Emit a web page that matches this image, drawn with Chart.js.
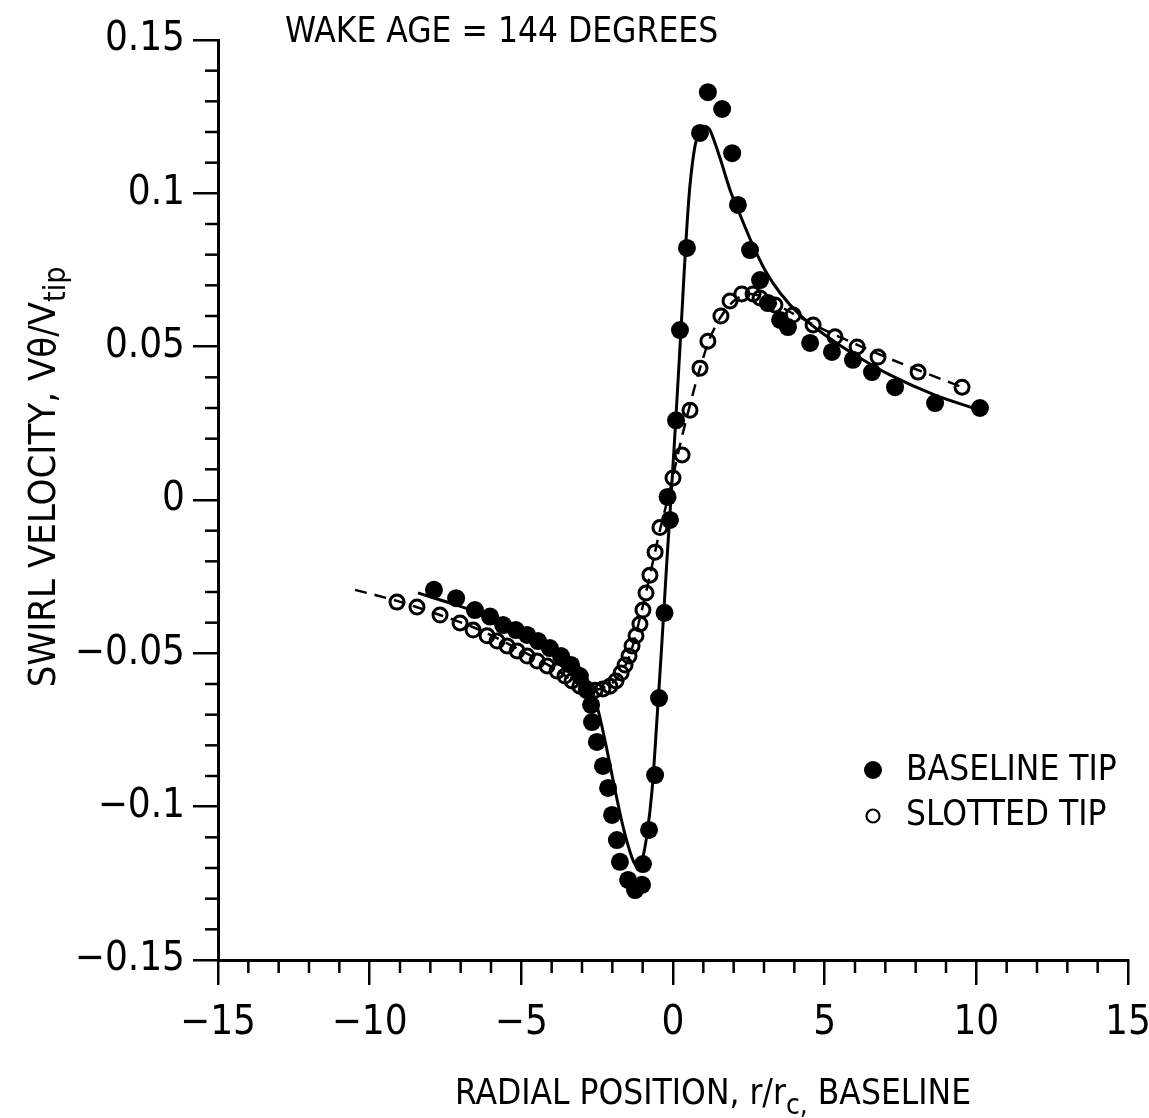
<!DOCTYPE html>
<html><head><meta charset="utf-8">
<script src="https://cdn.jsdelivr.net/npm/chart.js@4/dist/chart.umd.min.js"></script>
<style>html,body{margin:0;padding:0;background:#fff}</style>
</head><body>
<canvas id="c" width="1149" height="1118"></canvas>
<script>
// ---- data ----
const chartTitle = 'WAKE AGE = 144 DEGREES';
const seriesNames = ['BASELINE TIP', 'SLOTTED TIP'];
const xTickValues = [-15, -10, -5, 0, 5, 10, 15];
const xTickLabels = ['\u221215', '\u221210', '\u22125', '0', '5', '10', '15'];
const yTickValues = [-0.15, -0.1, -0.05, 0, 0.05, 0.1, 0.15];
const yTickLabels = ['\u22120.15', '\u22120.1', '\u22120.05', '0', '0.05', '0.1', '0.15'];

// baseline tip measured points (filled circles)
const baselineX = [-7.88,-7.15,-6.53,-6.03,-5.60,-5.18,-4.81,-4.45,-4.06,-3.69,-3.36,-3.07,-2.84,-2.70,-2.67,-2.51,-2.31,-2.14,-2.01,-1.85,-1.75,-1.48,-1.25,-1.02,-0.99,-0.79,-0.59,-0.46,-0.28,-0.10,-0.18,0.10,0.23,0.46,0.89,1.15,1.62,1.95,2.14,2.54,2.87,3.13,3.53,3.79,4.52,5.24,5.93,6.56,7.32,8.64,10.12];
const baselineY = [-0.0293,-0.0320,-0.0359,-0.0380,-0.0408,-0.0424,-0.0440,-0.0460,-0.0483,-0.0509,-0.0538,-0.0574,-0.0620,-0.0668,-0.0724,-0.0789,-0.0867,-0.0939,-0.1027,-0.1109,-0.1180,-0.1239,-0.1272,-0.1255,-0.1187,-0.1076,-0.0897,-0.0646,-0.0368,-0.0065,0.0010,0.0260,0.0554,0.0822,0.1197,0.1330,0.1275,0.1131,0.0962,0.0815,0.0717,0.0642,0.0587,0.0564,0.0512,0.0483,0.0457,0.0417,0.0368,0.0316,0.0300];

// baseline tip fitted curve (solid line)
const baselineFitX = [-8.41,-7.35,-6.36,-5.37,-4.39,-3.56,-3.07,-2.74,-2.47,-2.21,-1.91,-1.62,-1.35,-1.19,-1.02,-0.86,-0.69,-0.53,-0.36,-0.20,-0.03,0.13,0.30,0.43,0.56,0.73,0.89,1.06,1.22,1.55,1.88,2.21,2.60,3.03,3.53,4.19,5.01,6.00,7.15,8.64,10.12];
const baselineFitY = [-0.0303,-0.0336,-0.0369,-0.0408,-0.0457,-0.0505,-0.0548,-0.0603,-0.0685,-0.0799,-0.0946,-0.1076,-0.1167,-0.1193,-0.1174,-0.1092,-0.0946,-0.0717,-0.0456,-0.0196,0.0065,0.0326,0.0620,0.0848,0.1027,0.1157,0.1206,0.1219,0.1206,0.1115,0.1011,0.0930,0.0838,0.0750,0.0675,0.0603,0.0538,0.0473,0.0408,0.0342,0.0293];

// slotted tip measured points (open circles)
const slottedX = [-9.10,-8.44,-7.68,-7.02,-6.59,-6.13,-5.80,-5.47,-5.14,-4.81,-4.48,-4.15,-3.82,-3.56,-3.33,-3.07,-2.84,-2.57,-2.31,-2.08,-1.88,-1.71,-1.58,-1.45,-1.35,-1.22,-1.09,-0.99,-0.89,-0.76,-0.59,-0.43,0.00,0.30,0.56,0.89,1.15,1.58,1.88,2.27,2.64,2.87,3.36,3.96,4.62,5.34,6.07,6.76,8.08,9.53];
const slottedY = [-0.0333,-0.0349,-0.0375,-0.0401,-0.0424,-0.0443,-0.0460,-0.0476,-0.0492,-0.0509,-0.0525,-0.0541,-0.0558,-0.0574,-0.0590,-0.0607,-0.0616,-0.0620,-0.0616,-0.0607,-0.0590,-0.0564,-0.0538,-0.0509,-0.0476,-0.0443,-0.0404,-0.0359,-0.0303,-0.0245,-0.0170,-0.0090,0.0072,0.0147,0.0293,0.0430,0.0518,0.0600,0.0649,0.0672,0.0672,0.0659,0.0636,0.0603,0.0571,0.0532,0.0499,0.0466,0.0417,0.0368];

// slotted tip fitted curve (dashed line)
const slottedFitX = [-10.48,-9.10,-7.68,-6.36,-5.04,-4.06,-3.23,-2.74,-2.41,-2.08,-1.75,-1.42,-1.09,-0.76,-0.43,-0.10,0.23,0.56,0.89,1.22,1.55,2.04,2.54,3.03,3.86,4.85,6.17,7.48,9.53];
const slottedFitY = [-0.0293,-0.0329,-0.0375,-0.0424,-0.0489,-0.0541,-0.0593,-0.0616,-0.0616,-0.0603,-0.0571,-0.0505,-0.0385,-0.0245,-0.0098,0.0033,0.0179,0.0310,0.0430,0.0528,0.0593,0.0652,0.0672,0.0659,0.0613,0.0561,0.0502,0.0447,0.0368];

// ---- build chart ----
const FONT = "'DejaVu Sans Condensed', 'Liberation Sans Narrow', 'DejaVu Sans', sans-serif";
const pts = (xs, ys) => xs.map((x, i) => ({x: x, y: ys[i]}));

const decorPlugin = {
  id: 'decor',
  afterDraw(chart) {
    const ctx = chart.ctx;
    const xs = chart.scales.x, ys = chart.scales.y;
    ctx.save();
    ctx.strokeStyle = '#000';
    ctx.fillStyle = '#000';
    // minor ticks
    ctx.lineWidth = 2.5;
    for (let v = -15; v <= 15; v++) {
      if (v % 5 === 0) continue;
      const px = xs.getPixelForValue(v);
      ctx.beginPath(); ctx.moveTo(px, xs.top); ctx.lineTo(px, xs.top + 13); ctx.stroke();
    }
    for (let k = -15; k <= 15; k++) {
      if (k % 5 === 0) continue;
      const py = ys.getPixelForValue(k / 100);
      ctx.beginPath(); ctx.moveTo(ys.right, py); ctx.lineTo(ys.right - 13, py); ctx.stroke();
    }
    // chart title
    ctx.font = '35px ' + FONT;
    ctx.textBaseline = 'alphabetic';
    ctx.textAlign = 'left';
    ctx.fillText(chartTitle, 285, 42);

    // x axis title with subscript
    const big = '35px ' + FONT, small = '28px ' + FONT;
    const parts = [['RADIAL POSITION, r/r', big, 0], ['c,', small, 10], [' BASELINE', big, 0]];
    let total = 0;
    parts.forEach(p => { ctx.font = p[1]; total += ctx.measureText(p[0]).width; });
    let x0 = 713 - total / 2;
    parts.forEach(p => { ctx.font = p[1]; ctx.fillText(p[0], x0, 1104 + p[2]); x0 += ctx.measureText(p[0]).width; });

    // y axis title (rotated) with subscript
    ctx.save();
    ctx.translate(55, 477);
    ctx.rotate(-Math.PI / 2);
    const ybig = '38px ' + FONT, ysmall = '30px ' + FONT;
    const yparts = [['SWIRL VELOCITY, V\u03B8/V', ybig, 0], ['tip', ysmall, 10]];
    total = 0;
    yparts.forEach(p => { ctx.font = p[1]; total += ctx.measureText(p[0]).width; });
    x0 = -total / 2;
    yparts.forEach(p => { ctx.font = p[1]; ctx.fillText(p[0], x0, p[2]); x0 += ctx.measureText(p[0]).width; });
    ctx.restore();

    // legend
    ctx.beginPath(); ctx.arc(873, 770, 9, 0, Math.PI * 2); ctx.fill();
    ctx.beginPath(); ctx.lineWidth = 2.2; ctx.arc(873, 816, 6.5, 0, Math.PI * 2); ctx.stroke();
    ctx.font = '35px ' + FONT;
    ctx.textBaseline = 'middle';
    ctx.fillText(seriesNames[0], 906, 771);
    ctx.fillText(seriesNames[1], 906, 816);
    ctx.restore();
  }
};

new Chart(document.getElementById('c'), {
  type: 'scatter',
  data: {
    datasets: [
      {label: seriesNames[0] + ' fit', data: pts(baselineFitX, baselineFitY), showLine: true, borderColor: '#000', borderWidth: 3, pointRadius: 0, tension: 0.3, fill: false},
      {label: seriesNames[1] + ' fit', data: pts(slottedFitX, slottedFitY), showLine: true, borderColor: '#000', borderWidth: 2.5, borderDash: [12, 8], pointRadius: 0, tension: 0.3, fill: false},
      {label: seriesNames[0], data: pts(baselineX, baselineY), pointRadius: 9, pointBackgroundColor: '#000', pointBorderColor: '#000', pointBorderWidth: 0, showLine: false},
      {label: seriesNames[1], data: pts(slottedX, slottedY), pointRadius: 7, pointBackgroundColor: 'rgba(0,0,0,0)', pointBorderColor: '#000', pointBorderWidth: 3, showLine: false}
    ]
  },
  options: {
    responsive: false,
    animation: false,
    events: [],
    layout: {padding: {left: 0, right: 21, top: 40, bottom: 0}},
    plugins: {legend: {display: false}, tooltip: {enabled: false}},
    scales: {
      x: {
        type: 'linear', min: -15, max: 15,
        afterBuildTicks: s => { s.ticks = xTickValues.map(v => ({value: v})); },
        afterFit: s => { s.height = 158; s.paddingLeft = 0; s.paddingRight = 0; },
        ticks: {font: {family: FONT, size: 40}, color: '#000', padding: 15, maxRotation: 0,
                callback: (v, i) => xTickLabels[xTickValues.indexOf(v)]},
        grid: {display: true, drawOnChartArea: false, drawTicks: true, tickLength: 25, color: '#000', lineWidth: 2.5},
        border: {display: true, color: '#000', width: 3}
      },
      y: {
        type: 'linear', min: -0.15, max: 0.15,
        afterBuildTicks: s => { s.ticks = yTickValues.map(v => ({value: v})); },
        afterFit: s => { s.width = 218; s.paddingTop = 0; s.paddingBottom = 0; },
        ticks: {font: {family: FONT, size: 40}, color: '#000', padding: 8,
                callback: (v, i) => yTickLabels[i]},
        grid: {display: true, drawOnChartArea: false, drawTicks: true, tickLength: 25, color: '#000', lineWidth: 2.5},
        border: {display: true, color: '#000', width: 3}
      }
    }
  },
  plugins: [decorPlugin]
});
</script>
</body></html>
